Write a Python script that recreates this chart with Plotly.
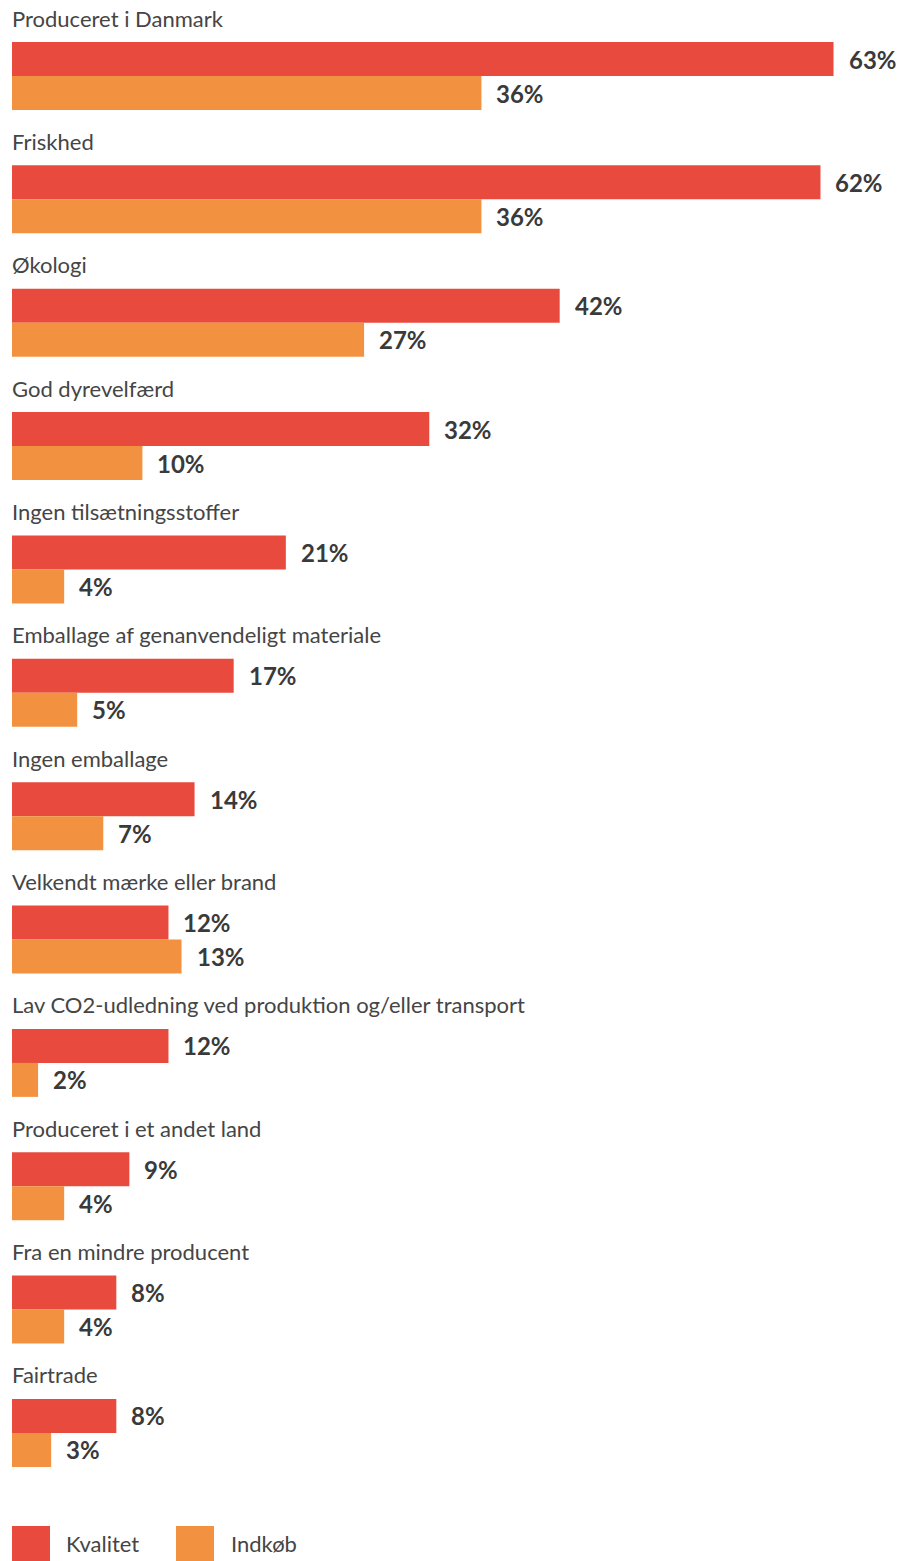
import plotly.graph_objects as go

# Survey answers: share of respondents per attribute
categories = [
    "Produceret i Danmark",
    "Friskhed",
    "Økologi",
    "God dyrevelfærd",
    "Ingen tilsætningsstoffer",
    "Emballage af genanvendeligt materiale",
    "Ingen emballage",
    "Velkendt mærke eller brand",
    "Lav CO2-udledning ved produktion og/eller transport",
    "Produceret i et andet land",
    "Fra en mindre producent",
    "Fairtrade",
]
kvalitet = [63, 62, 42, 32, 21, 17, 14, 12, 12, 9, 8, 8]
indkoeb = [36, 36, 27, 10, 4, 5, 7, 13, 2, 4, 4, 3]
series_names = ["Kvalitet", "Indkøb"]

RED = "#E84B3E"
ORANGE = "#F29241"
TEXT = "#454545"
FONT = "Lato"

W, H = 909, 1561
PITCH = 123.36           # px between groups
BAR_PX = 34.0            # bar thickness in px
FIRST_RED_CENTER = 59.0  # px from top
bar_w = BAR_PX / PITCH
label_off = 40.0 / PITCH

n = len(categories)
idx = list(range(n))
y_red = [i for i in idx]
y_orange = [i + bar_w for i in idx]

fig = go.Figure()
fig.add_trace(go.Bar(
    x=kvalitet, y=y_red, orientation="h", width=bar_w,
    marker=dict(color=RED, line=dict(width=0)), name=series_names[0],
    showlegend=False, hoverinfo="skip",
))
fig.add_trace(go.Bar(
    x=indkoeb, y=y_orange, orientation="h", width=bar_w,
    marker=dict(color=ORANGE, line=dict(width=0)), name=series_names[1],
    showlegend=False, hoverinfo="skip",
))

annotations = []
# category labels above each pair of bars
for i, cat in enumerate(categories):
    annotations.append(dict(
        x=0, y=i - label_off, xref="x", yref="y", text=cat,
        showarrow=False, xanchor="left", yanchor="middle",
        borderpad=0, xshift=-1, yshift=1,
        font=dict(family=FONT, size=22, color=TEXT),
    ))
# value labels at bar ends
for vals, ys in ((kvalitet, y_red), (indkoeb, y_orange)):
    for v, yy in zip(vals, ys):
        annotations.append(dict(
            x=v, y=yy, xref="x", yref="y", text=f"<b>{v}%</b>",
            showarrow=False, xanchor="left", yanchor="middle", xshift=14,
            borderpad=0,
            font=dict(family=FONT, size=24, color="#3a3a3a"),
        ))

# legend drawn as squares + text at the bottom
shapes = []
leg_top, leg_bot = 1526, 1561
for (x0, color, name, tx) in ((12, RED, series_names[0], 65), (176, ORANGE, series_names[1], 230)):
    shapes.append(dict(
        type="rect", xref="paper", yref="paper",
        x0=(x0 - 12) / (W - 12), x1=(x0 + 38 - 12) / (W - 12),
        y0=1 - leg_bot / H, y1=1 - leg_top / H,
        fillcolor=color, line=dict(width=0),
    ))
    annotations.append(dict(
        x=(tx - 12) / (W - 12), y=1 - (leg_top + leg_bot) / 2 / H,
        xref="paper", yref="paper", text=name, showarrow=False,
        xanchor="left", yanchor="middle", borderpad=0,
        font=dict(family=FONT, size=22, color=TEXT),
    ))

px_per_unit = 13.04
y_top = -FIRST_RED_CENTER / PITCH
y_bot = (H - FIRST_RED_CENTER) / PITCH

fig.update_layout(
    width=W, height=H,
    margin=dict(l=12, r=0, t=0, b=0),
    paper_bgcolor="white", plot_bgcolor="white",
    barmode="overlay",
    xaxis=dict(range=[0, (W - 12) / px_per_unit], visible=False, fixedrange=True),
    yaxis=dict(range=[y_bot, y_top], visible=False, fixedrange=True),
    annotations=annotations,
    shapes=shapes,
    showlegend=False,
)

fig.write_html("out.html", config={"displayModeBar": False})
